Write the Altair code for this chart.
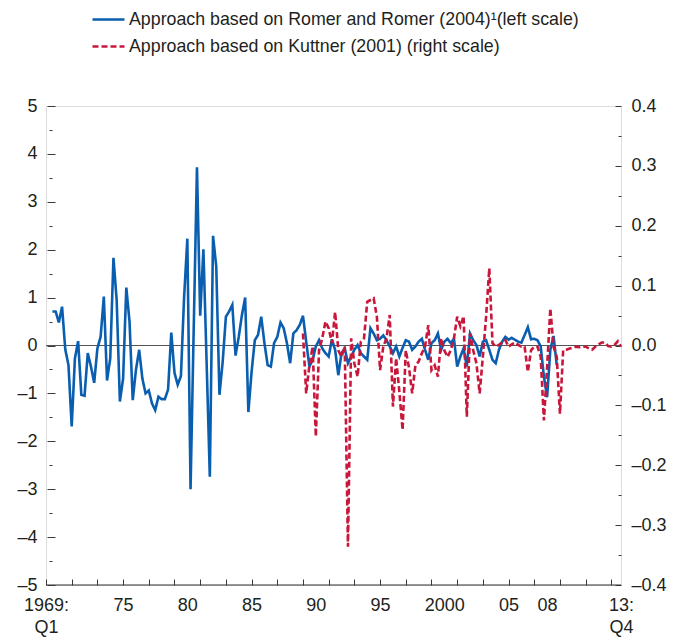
import altair as alt
import pandas as pd

# ---------------- data ----------------
romer_start = (1969, 3)   # first quarter of the Romer & Romer series
romer = [0.71, 0.71, 0.48, 0.81, -0.08, -0.41, -1.69, -0.27, 0.09, -1.03,
         -1.05, -0.16, -0.44, -0.78, -0.06, 0.18, 1.02, -0.73, -0.27, 1.83,
         0.95, -1.17, -0.69, 1.21, 0.50, -1.14, -0.51, -0.09, -0.69, -1.00,
         -0.94, -1.21, -1.35, -1.07, -1.12, -1.12, -0.92, 0.27, -0.57, -0.82,
         -0.64, 1.02, 2.23, -3.00, 0.40, 3.72, 0.62, 2.01, -0.35, -2.74,
         2.29, 1.65, -1.03, -0.34, 0.60, 0.71, 0.85, -0.21, 0.18, 0.64,
         1.00, -1.39, -0.55, 0.11, 0.22, 0.60, 0.05, -0.41, -0.44, 0.05,
         0.18, 0.48, 0.36, 0.05, -0.37, 0.25, 0.32, 0.43, 0.62, 0.08,
         -0.44, -0.30, -0.02, 0.11, -0.06, -0.16, -0.23, 0.13, -0.09, -0.62,
         -0.16, -0.06, -0.37, -0.23, -0.09, 0.01, -0.16, -0.23, -0.30, 0.36,
         0.25, 0.11, 0.14, 0.21, 0.11, -0.02, -0.16, -0.02, -0.23, -0.05,
         0.11, 0.08, -0.09, -0.02, 0.08, 0.14, -0.09, -0.30, 0.05, 0.11,
         0.25, -0.09, 0.08, 0.14, 0.05, 0.14, -0.44, -0.23, -0.06, -0.44,
         0.25, 0.11, 0.01, -0.23, 0.08, 0.11, -0.09, -0.30, -0.37, -0.09,
         0.08, 0.18, 0.12, 0.16, 0.12, 0.08, 0.06, 0.22, 0.38, 0.13,
         0.14, 0.11, -0.02, -0.65, -1.08, -0.09, 0.20, -0.41]

kuttner_start = (1989, 1)  # first quarter of the Kuttner series
kuttner = [0.020, -0.080, -0.033, -0.002, -0.152, -0.008, 0.012, 0.040, 0.029, 0.004,
           0.056, -0.008, -0.019, -0.002, -0.336, 0.012, -0.030, -0.052, 0.006, 0.012,
           0.073, 0.076, 0.079, 0.048, -0.041, -0.002, 0.012, 0.051, -0.102, -0.021,
           -0.077, -0.141, -0.008, -0.037, -0.080, -0.033, -0.027, -0.013, -0.002, 0.034,
           -0.041, -0.033, -0.052, 0.012, -0.008, -0.019, -0.008, 0.012, 0.048, 0.032,
           0.049, -0.119, 0.020, -0.008, -0.030, -0.080, -0.019, 0.048, 0.129, 0.004,
           -0.002, 0.001, 0.005, 0.009, -0.002, 0.002, 0.005, 0.001, -0.002, -0.002,
           -0.044, -0.008, -0.002, -0.002, -0.019, -0.125, -0.036, 0.062, -0.002, -0.019,
           -0.114, -0.008, -0.007, -0.005, -0.004, -0.002, -0.003, -0.002, -0.002, -0.005,
           -0.007, -0.002, 0.002, 0.005, 0.005, -0.001, -0.002, 0.001, 0.007, -0.002]

series_names = ["Approach based on Romer and Romer (2004)\u00b9(left scale)",
                "Approach based on Kuttner (2001) (right scale)"]
series_colors = ["#0A5EAF", "#C8173A"]
series_dashes = [[1, 0], [6, 3]]

left_ticks = [-5, -4, -3, -2, -1, 0, 1, 2, 3, 4, 5]
left_minor = [-4.5, -3.5, -2.5, -1.5, -0.5, 0.5, 1.5, 2.5, 3.5, 4.5]
right_ticks = [-0.4, -0.3, -0.2, -0.1, 0.0, 0.1, 0.2, 0.3, 0.4]
right_minor = [-0.35, -0.25, -0.15, -0.05, 0.05, 0.15, 0.25, 0.35]
x_tick_years = [1969, 1971, 1973, 1975, 1977, 1979, 1981, 1983, 1985, 1987, 1989,
                1991, 1993, 1995, 1997, 1999, 2001, 2003, 2005, 2007, 2009, 2011, 2013]
x_label_pos = [1969, 1975, 1980, 1985, 1990, 1995, 2000, 2005, 2008, 2013.75]


def quarter_positions(start, n):
    y, q = start
    out = []
    for _ in range(n):
        out.append(y + (q - 1) / 4)
        q += 1
        if q > 4:
            q = 1
            y += 1
    return out


df_b = pd.DataFrame({"t": quarter_positions(romer_start, len(romer)), "v": romer,
                     "series": series_names[0]})
df_r = pd.DataFrame({"t": quarter_positions(kuttner_start, len(kuttner)), "v": kuttner,
                     "series": series_names[1]})

FONT = "Liberation Sans, Arial, sans-serif"
TXT = "#231F20"
TICK = "#3a3a3a"
LAB = 18

xscale = alt.Scale(domain=[1969, 2013.75], nice=False, zero=False)
lscale = alt.Scale(domain=[-5, 5], nice=False, zero=False)
rscale = alt.Scale(domain=[-0.4, 0.4], nice=False, zero=False)
cscale = alt.Scale(domain=series_names, range=series_colors)
dscale = alt.Scale(domain=series_names, range=series_dashes)

legend = alt.Legend(orient="none", legendX=45, legendY=-104, title=None, direction="vertical",
                    symbolType="stroke", symbolSize=1024, symbolStrokeWidth=2.6,
                    labelFont=FONT, labelFontSize=17.8, labelColor=TXT, labelLimit=700,
                    labelOffset=3, rowPadding=-8)

one = pd.DataFrame({"a": [0]})

zero_rule = alt.Chart(one).mark_rule(color="#555555", strokeWidth=1.2).encode(
    y=alt.YDatum(0, scale=lscale,
                 axis=alt.Axis(orient="left", values=left_minor, labels=False, domain=False,
                               grid=False, tickSize=3, offset=-6, tickColor=TICK,
                               tickWidth=1, title=None))
)

base_rule = alt.Chart(one).mark_rule(color="#333333", strokeWidth=1.2).encode(
    y=alt.YDatum(-0.4, scale=rscale,
                 axis=alt.Axis(orient="right", values=right_minor, labels=False, domain=False,
                               grid=False, tickSize=3, offset=-3, tickColor=TICK,
                               tickWidth=1, title=None))
)

blue = alt.Chart(df_b).mark_line(strokeWidth=2.6).encode(
    x=alt.X("t:Q", scale=xscale,
            axis=alt.Axis(orient="bottom", values=x_tick_years, labels=False, domain=False,
                          grid=False, tickSize=6, offset=-6, tickColor=TICK, tickWidth=1,
                          title=None)),
    y=alt.Y("v:Q", scale=lscale,
            axis=alt.Axis(orient="left", values=left_ticks, domain=False, grid=False,
                          tickSize=8, offset=-9, tickColor=TICK, tickWidth=1,
                          labelPadding=10, labelFont=FONT, labelFontSize=LAB, labelColor=TXT,
                          labelExpr="datum.value < 0 ? '\u2013' + format(abs(datum.value), 'd') : format(datum.value, 'd')",
                          title=None)),
    color=alt.Color("series:N", scale=cscale, legend=legend),
    strokeDash=alt.StrokeDash("series:N", scale=dscale, legend=legend),
)

red = alt.Chart(df_r).mark_line(strokeWidth=2.6).encode(
    x=alt.X("t:Q", scale=xscale,
            axis=alt.Axis(orient="bottom", values=x_label_pos, ticks=False, domain=False,
                          grid=False, labelPadding=11, labelFont=FONT, labelFontSize=LAB,
                          labelColor=TXT, labelFlush=False, labelOverlap=False,
                          labelLineHeight=22,
                          labelExpr="datum.value == 1969 ? ['1969:', 'Q1'] : datum.value == 2013.75 ? ['13:', 'Q4'] : datum.value == 2000 ? '2000' : substring(toString(datum.value), 2)",
                          title=None)),
    y=alt.Y("v:Q", scale=rscale,
            axis=alt.Axis(orient="right", values=right_ticks, domain=False, grid=False,
                          tickSize=6, offset=-6, tickColor=TICK, tickWidth=1,
                          labelPadding=10, labelFont=FONT, labelFontSize=LAB, labelColor=TXT,
                          labelExpr="datum.value < 0 ? '\u2013' + format(abs(datum.value), '.1f') : format(datum.value, '.1f')",
                          title=None)),
    color=alt.Color("series:N", scale=cscale, legend=legend),
    strokeDash=alt.StrokeDash("series:N", scale=dscale, legend=legend),
)

chart = (
    alt.layer(zero_rule, base_rule, blue, red)
    .resolve_scale(y="independent")
    .resolve_axis(y="independent", x="independent")
    .properties(width=575, height=479,
                padding={"left": 38, "top": 98, "right": 46, "bottom": 56},
                autosize=alt.AutoSizeParams(type="none"))
    .configure_view(stroke=None)
    .configure(font=FONT)
)

chart.save("out.html", embed_options={"renderer": "svg", "actions": False})
